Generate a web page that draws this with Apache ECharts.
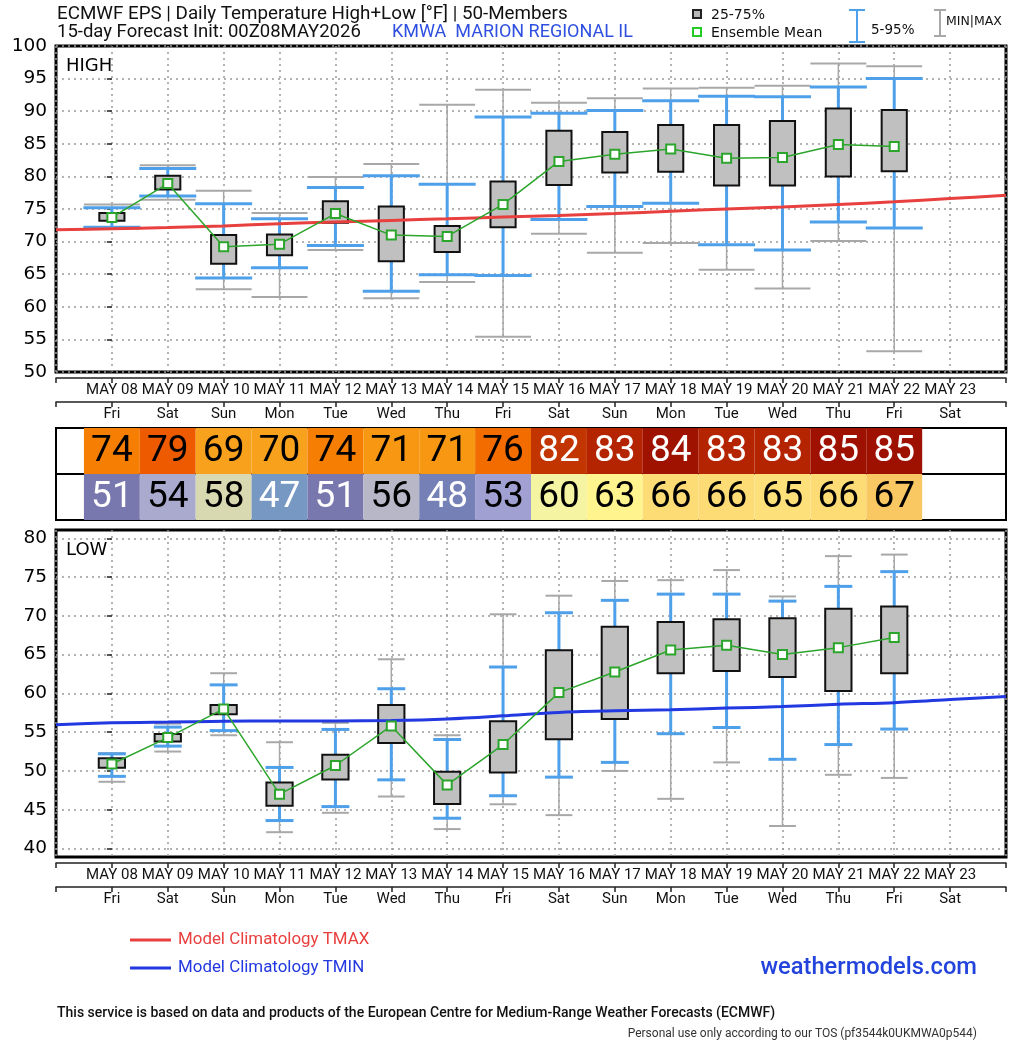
<!DOCTYPE html>
<html><head><meta charset="utf-8">
<script src="https://cdn.jsdelivr.net/npm/echarts@6/dist/echarts.min.js"></script>
<style>html,body{margin:0;padding:0;background:#fff}#c{width:1024px;height:1044px}</style>
</head><body><div id="c"></div>
<script>
// ---------- DATA ----------
const dates = ['MAY 08','MAY 09','MAY 10','MAY 11','MAY 12','MAY 13','MAY 14','MAY 15','MAY 16','MAY 17','MAY 18','MAY 19','MAY 20','MAY 21','MAY 22','MAY 23'];
const weekdays = ['Fri','Sat','Sun','Mon','Tue','Wed','Thu','Fri','Sat','Sun','Mon','Tue','Wed','Thu','Fri','Sat'];

const highMin  = [72.0, 76.4, 62.7, 61.5, 68.7, 61.3, 63.8, 55.4, 71.2, 68.3, 69.8, 65.7, 62.8, 70.1, 53.2];
const highP05  = [72.2, 77.0, 64.4, 66.0, 69.4, 62.4, 64.9, 64.8, 73.4, 75.4, 75.9, 69.5, 68.7, 73.0, 72.1];
const highP25  = [73.2, 78.0, 66.6, 67.9, 72.9, 67.0, 68.4, 72.2, 78.7, 80.6, 80.7, 78.6, 78.6, 80.0, 80.8];
const highMean = [73.7, 78.9, 69.2, 69.6, 74.3, 71.0, 70.8, 75.7, 82.3, 83.4, 84.2, 82.8, 82.9, 84.9, 84.6];
const highP75  = [74.4, 80.1, 71.0, 71.1, 76.2, 75.4, 72.4, 79.2, 87.0, 86.8, 87.9, 87.9, 88.5, 90.4, 90.2];
const highP95  = [75.2, 81.2, 75.8, 73.5, 78.3, 80.1, 78.8, 89.1, 89.7, 90.1, 91.6, 92.3, 92.2, 93.7, 95.0];
const highMax  = [75.7, 81.7, 77.8, 74.4, 79.9, 81.9, 91.0, 93.3, 91.3, 92.0, 93.5, 93.6, 93.9, 97.3, 96.9];

const lowMin  = [48.6, 52.5, 54.6, 42.1, 44.6, 46.7, 42.5, 45.7, 44.3, 50.0, 46.4, 51.1, 42.9, 49.5, 49.1];
const lowP05  = [49.3, 53.2, 55.2, 43.6, 45.4, 48.85, 43.9, 46.8, 49.2, 51.1, 54.8, 55.6, 51.5, 53.4, 55.4];
const lowP25  = [50.4, 53.8, 57.3, 45.5, 48.9, 53.6, 45.75, 49.8, 54.1, 56.7, 62.6, 62.9, 62.1, 60.3, 62.6];
const lowMean = [50.9, 54.3, 58.0, 47.0, 50.7, 55.8, 48.2, 53.4, 60.1, 62.75, 65.6, 66.2, 65.0, 65.9, 67.2];
const lowP75  = [51.65, 54.75, 58.5, 48.5, 52.1, 58.5, 49.9, 56.4, 65.55, 68.6, 69.2, 69.55, 69.7, 70.9, 71.2];
const lowP95  = [52.2, 55.65, 61.1, 50.45, 55.35, 60.6, 54.05, 63.4, 70.4, 72.0, 72.8, 72.8, 71.9, 73.8, 75.7];
const lowMax  = [52.3, 56.1, 62.6, 53.7, 56.2, 64.4, 54.6, 70.2, 72.6, 74.5, 74.6, 75.9, 72.5, 77.7, 77.9];

const climDays = [-1, 0, 1, 2, 3, 4, 5, 6, 7, 8, 9, 10, 11, 12, 13, 14, 15, 16];
const climTmax = [71.8, 71.98, 72.15, 72.4, 72.75, 73.0, 73.25, 73.5, 73.77, 74.0, 74.3, 74.65, 75.0, 75.3, 75.7, 76.1, 76.6, 77.1];
const climTmin = [55.95, 56.2, 56.3, 56.4, 56.45, 56.45, 56.5, 56.7, 57.1, 57.55, 57.75, 57.9, 58.1, 58.3, 58.6, 58.8, 59.2, 59.6];

const tableHigh = [74, 79, 69, 70, 74, 71, 71, 76, 82, 83, 84, 83, 83, 85, 85];
const tableLow  = [51, 54, 58, 47, 51, 56, 48, 53, 60, 63, 66, 66, 65, 66, 67];

const highTicks = [50, 55, 60, 65, 70, 75, 80, 85, 90, 95, 100];
const lowTicks  = [40, 45, 50, 55, 60, 65, 70, 75, 80];

// ---------- STYLES ----------
const highCellColors = {69:'#f8a11c',70:'#f8a11c',71:'#f89812',74:'#f67e02',76:'#f26c00',79:'#ee5a00',82:'#c23400',83:'#b42400',84:'#a01200',85:'#9e1000'};
const lowCellColors  = {47:'#7898c4',48:'#7480b6',51:'#7878ae',53:'#a0a0d2',54:'#aaaacf',56:'#b7b7c8',58:'#d8d9b0',60:'#f4f4a2',63:'#fff48e',65:'#fde07a',66:'#fddc76',67:'#fac862'};
const COND = "Roboto, 'Noto Sans', sans-serif";
const DV = "'DejaVu Sans', Verdana, sans-serif";
const BLUE_W = '#4ea0ea', GRAY_W = '#a8a8a8', GREEN = '#2ca52c';

function whisker(color, lw, capLw, capFrac) {
  return function (params, api) {
    const x = api.value(0), lo = api.value(1), hi = api.value(2);
    const a = api.coord([x, lo]), b = api.coord([x, hi]);
    const w = api.size([1, 0])[0] * capFrac;
    const st = {stroke: color, lineWidth: lw, fill: null};
    const cs = {stroke: color, lineWidth: capLw, fill: null};
    return {type: 'group', children: [
      {type: 'line', shape: {x1: a[0], y1: a[1], x2: b[0], y2: b[1]}, style: st},
      {type: 'line', shape: {x1: a[0] - w / 2, y1: a[1], x2: a[0] + w / 2, y2: a[1]}, style: cs},
      {type: 'line', shape: {x1: b[0] - w / 2, y1: b[1], x2: b[0] + w / 2, y2: b[1]}, style: cs}
    ]};
  };
}
function box(frac) {
  return function (params, api) {
    const x = api.value(0), lo = api.value(1), hi = api.value(2);
    const a = api.coord([x, lo]), b = api.coord([x, hi]);
    const w = api.size([1, 0])[0] * frac;
    return {type: 'rect', shape: {x: a[0] - w / 2, y: b[1], width: w, height: a[1] - b[1]},
      style: {fill: '#c0c0c0', stroke: '#111', lineWidth: 2}};
  };
}
function cell(params, api) {
  const x = api.value(0), row = api.value(1), v = api.value(2);
  const p0 = api.coord([x - 0.5, row + 1]), p1 = api.coord([x + 0.5, row]);
  const isHigh = row === 1;
  const col = isHigh ? highCellColors[v] : lowCellColors[v];
  const white = isHigh ? v >= 82 : v <= 51;
  return {type: 'group', children: [
    {type: 'rect', shape: {x: p0[0], y: p0[1], width: p1[0] - p0[0], height: p1[1] - p0[1]}, style: {fill: col}},
    {type: 'text', x: (p0[0] + p1[0]) / 2, y: (p0[1] + p1[1]) / 2 + 1,
      style: {text: String(v), fill: white ? '#fff' : '#000', font: '37px ' + COND, align: 'center', verticalAlign: 'middle'}}
  ]};
}

const zip3 = (a, b) => a.map((v, i) => [i, v, b[i]]);

function mainX(gi) {
  return {gridIndex: gi, type: 'value', min: -1, max: 16, interval: 1,
    axisLine: {show: false}, axisTick: {show: false}, axisLabel: {show: false},
    splitLine: {show: true, lineStyle: {color: '#9a9a9a', width: 1.5, type: [2, 4]}}};
}
function labelX(gi, offset, labels) {
  return {gridIndex: gi, type: 'value', min: -1, max: 16, interval: 1, position: 'bottom', offset: offset,
    axisLine: {show: true, onZero: false, lineStyle: {color: '#222', width: 1.5}},
    axisTick: {show: true, length: 5, lineStyle: {color: '#222', width: 1.5}},
    axisLabel: {show: true, margin: 5, fontSize: 15, fontFamily: COND, color: '#111',
      formatter: v => (labels[v] !== undefined ? labels[v] : '')},
    splitLine: {show: false}};
}
function yAx(gi, min, max, ticks) {
  return {gridIndex: gi, type: 'value', min: min, max: max,
    axisLine: {show: false},
    axisTick: {show: true, length: 5, customValues: ticks, lineStyle: {color: '#222', width: 1.5}},
    axisLabel: {show: true, customValues: ticks, margin: 9, fontSize: 18.5, fontFamily: DV, color: '#000'},
    splitLine: {show: true, lineStyle: {color: '#9a9a9a', width: 1.5, type: [2, 4]}}};
}

const option = {
  backgroundColor: '#fff',
  animation: false,
  grid: [
    {left: 56, top: 46, width: 950, height: 326, show: true, borderColor: '#000', borderWidth: 3, backgroundColor: 'transparent'},
    {left: 56, top: 428, width: 950, height: 92, show: true, borderColor: '#000', borderWidth: 2, backgroundColor: 'transparent'},
    {left: 56, top: 530, width: 950, height: 327, show: true, borderColor: '#000', borderWidth: 3, backgroundColor: 'transparent'}
  ],
  xAxis: [
    mainX(0), labelX(0, 6, dates), labelX(0, 30, weekdays),
    {gridIndex: 1, type: 'value', min: -1, max: 16, show: false},
    mainX(2), labelX(2, 6, dates), labelX(2, 30, weekdays)
  ],
  yAxis: [
    yAx(0, 50, 100, highTicks),
    {gridIndex: 1, type: 'value', min: 0, max: 2, interval: 1, axisLine: {show: false}, axisTick: {show: false}, axisLabel: {show: false},
      splitLine: {show: true, lineStyle: {color: '#000', width: 2}}},
    yAx(2, 38.9, 81.07, lowTicks)
  ],
  series: [
    // HIGH
    {type: 'custom', xAxisIndex: 0, yAxisIndex: 0, z: 1, renderItem: whisker(GRAY_W, 1.5, 2, 1.0), data: zip3(highMin, highMax), encode: {x: 0, y: [1, 2]}, clip: true},
    {type: 'custom', xAxisIndex: 0, yAxisIndex: 0, z: 2, renderItem: whisker(BLUE_W, 3, 3, 1.02), data: zip3(highP05, highP95), encode: {x: 0, y: [1, 2]}, clip: true},
    {type: 'custom', xAxisIndex: 0, yAxisIndex: 0, z: 3, renderItem: box(0.45), data: zip3(highP25, highP75), encode: {x: 0, y: [1, 2]}, clip: true},
    {type: 'line', xAxisIndex: 0, yAxisIndex: 0, z: 4, smooth: 0.3, showSymbol: false, symbol: 'none', data: climDays.map((d, i) => [d, climTmax[i]]),
      lineStyle: {color: '#e8403f', width: 3}, itemStyle: {color: '#e8403f'}},
    {type: 'line', xAxisIndex: 0, yAxisIndex: 0, z: 5, symbol: 'rect', symbolSize: 9, data: highMean.map((v, i) => [i, v]),
      lineStyle: {color: GREEN, width: 1.5}, itemStyle: {color: '#fff', borderColor: GREEN, borderWidth: 2}},
    // TABLE
    {type: 'custom', xAxisIndex: 3, yAxisIndex: 1, z: 1, renderItem: cell,
      data: tableHigh.map((v, i) => [i, 1, v]).concat(tableLow.map((v, i) => [i, 0, v])), encode: {x: 0, y: 1}},
    // LOW
    {type: 'custom', xAxisIndex: 4, yAxisIndex: 2, z: 1, renderItem: whisker(GRAY_W, 1.5, 2, 0.48), data: zip3(lowMin, lowMax), encode: {x: 0, y: [1, 2]}, clip: true},
    {type: 'custom', xAxisIndex: 4, yAxisIndex: 2, z: 2, renderItem: whisker(BLUE_W, 3, 3, 0.5), data: zip3(lowP05, lowP95), encode: {x: 0, y: [1, 2]}, clip: true},
    {type: 'custom', xAxisIndex: 4, yAxisIndex: 2, z: 3, renderItem: box(0.47), data: zip3(lowP25, lowP75), encode: {x: 0, y: [1, 2]}, clip: true},
    {type: 'line', xAxisIndex: 4, yAxisIndex: 2, z: 4, smooth: 0.3, showSymbol: false, symbol: 'none', data: climDays.map((d, i) => [d, climTmin[i]]),
      lineStyle: {color: '#2238e0', width: 3}, itemStyle: {color: '#2238e0'}},
    {type: 'line', xAxisIndex: 4, yAxisIndex: 2, z: 5, symbol: 'rect', symbolSize: 9, data: lowMean.map((v, i) => [i, v]),
      lineStyle: {color: GREEN, width: 1.5}, itemStyle: {color: '#fff', borderColor: GREEN, borderWidth: 2}}
  ],
  graphic: [
    {type: 'text', x: 57, y: 14, style: {text: 'ECMWF EPS | Daily Temperature High+Low [°F] | 50-Members', font: '18.8px ' + COND, fill: '#111', verticalAlign: 'middle'}},
    {type: 'text', x: 57, y: 32, style: {text: '15-day Forecast Init: 00Z08MAY2026', font: '18.5px ' + COND, fill: '#111', verticalAlign: 'middle'}},
    {type: 'text', x: 392, y: 32, style: {text: 'KMWA  MARION REGIONAL IL', font: '18px ' + COND, fill: '#2f4fe0', verticalAlign: 'middle'}},
    // top legend
    {type: 'rect', shape: {x: 693, y: 10, width: 8, height: 8}, style: {fill: '#b8b8b8', stroke: '#222', lineWidth: 2}},
    {type: 'text', x: 711, y: 15, style: {text: '25-75%', font: '14px ' + DV, fill: '#111', verticalAlign: 'middle'}},
    {type: 'rect', shape: {x: 693, y: 28, width: 8, height: 8}, style: {fill: '#fff', stroke: '#22cc22', lineWidth: 2}},
    {type: 'text', x: 711, y: 33, style: {text: 'Ensemble Mean', font: '14px ' + DV, fill: '#111', verticalAlign: 'middle'}},
    {type: 'line', shape: {x1: 857, y1: 10, x2: 857, y2: 42}, style: {stroke: BLUE_W, lineWidth: 2}},
    {type: 'line', shape: {x1: 849, y1: 10, x2: 865, y2: 10}, style: {stroke: BLUE_W, lineWidth: 2}},
    {type: 'line', shape: {x1: 849, y1: 42, x2: 865, y2: 42}, style: {stroke: BLUE_W, lineWidth: 2}},
    {type: 'text', x: 871, y: 30, style: {text: '5-95%', font: '13.5px ' + DV, fill: '#111', verticalAlign: 'middle'}},
    {type: 'line', shape: {x1: 940, y1: 10, x2: 940, y2: 36}, style: {stroke: GRAY_W, lineWidth: 2}},
    {type: 'line', shape: {x1: 934, y1: 10, x2: 946, y2: 10}, style: {stroke: GRAY_W, lineWidth: 2}},
    {type: 'line', shape: {x1: 934, y1: 36, x2: 946, y2: 36}, style: {stroke: GRAY_W, lineWidth: 2}},
    {type: 'text', x: 946, y: 22, style: {text: 'MIN|MAX', font: '12.5px ' + DV, fill: '#111', verticalAlign: 'middle'}},
    // panel labels
    {type: 'text', x: 66, y: 66, style: {text: 'HIGH', font: '18px ' + DV, fill: '#000', verticalAlign: 'middle'}},
    {type: 'text', x: 66, y: 550, style: {text: 'LOW', font: '18px ' + DV, fill: '#000', verticalAlign: 'middle'}},
    // bottom legend
    {type: 'line', shape: {x1: 130, y1: 940, x2: 171, y2: 940}, style: {stroke: '#e8403f', lineWidth: 3}},
    {type: 'text', x: 178, y: 940, style: {text: 'Model Climatology TMAX', font: '16.9px ' + COND, fill: '#e8403f', verticalAlign: 'middle'}},
    {type: 'line', shape: {x1: 130, y1: 968, x2: 171, y2: 968}, style: {stroke: '#2238e0', lineWidth: 3}},
    {type: 'text', x: 178, y: 968, style: {text: 'Model Climatology TMIN', font: '16.9px ' + COND, fill: '#2238e0', verticalAlign: 'middle'}},
    {type: 'text', x: 977, y: 968, style: {text: 'weathermodels.com', font: '500 23.7px ' + COND, fill: '#2244dd', align: 'right', verticalAlign: 'middle'}},
    {type: 'text', x: 57, y: 1013, style: {text: 'This service is based on data and products of the European Centre for Medium-Range Weather Forecasts (ECMWF)', font: '500 14px ' + COND, fill: '#111', verticalAlign: 'middle'}},
    {type: 'text', x: 977, y: 1034, style: {text: 'Personal use only according to our TOS (pf3544k0UKMWA0p544)', font: '12px ' + COND, fill: '#333', align: 'right', verticalAlign: 'middle'}}
  ]
};
const chart = echarts.init(document.getElementById('c'), null, {renderer: 'canvas'});
chart.setOption(option);
</script>
</body></html>
